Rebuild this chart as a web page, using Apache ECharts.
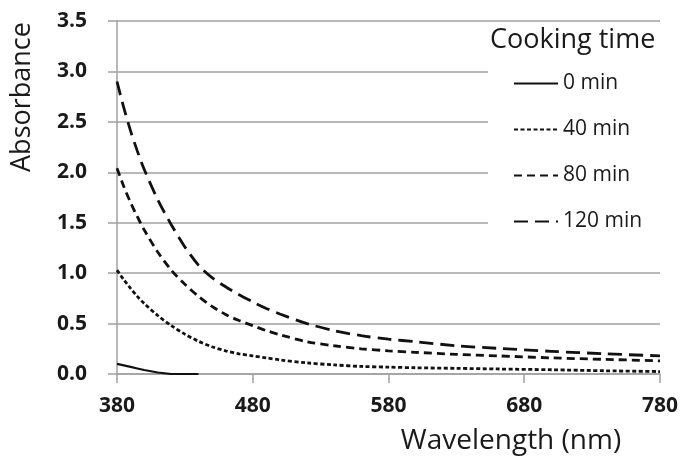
<!DOCTYPE html>
<html>
<head>
<meta charset="utf-8">
<script src="https://cdn.jsdelivr.net/npm/echarts@6/dist/echarts.min.js"></script>
<style>
  html, body { margin: 0; padding: 0; background: #fff; }
  #chart { width: 681px; height: 456px; }
</style>
</head>
<body>
<div id="chart"></div>
<script>
// wavelength (nm) sampled along the curves
const wavelengths = [380, 385, 390, 395, 400, 410, 420, 430, 440, 450, 460, 470, 480, 490, 500, 520, 540, 560, 580, 600, 630, 660, 700, 740, 780];
const min0   = [0.10, 0.085, 0.07, 0.055, 0.04, 0.015, 0.0, 0.0, 0.0, null, null, null, null, null, null, null, null, null, null, null, null, null, null, null, null];
const min40  = [1.03, 0.935, 0.85, 0.77, 0.70, 0.58, 0.48, 0.395, 0.325, 0.27, 0.23, 0.20, 0.18, 0.16, 0.14, 0.11, 0.09, 0.075, 0.068, 0.062, 0.056, 0.05, 0.042, 0.032, 0.024];
const min80  = [2.04, 1.86, 1.70, 1.56, 1.43, 1.21, 1.03, 0.89, 0.77, 0.67, 0.59, 0.53, 0.48, 0.43, 0.39, 0.32, 0.28, 0.25, 0.23, 0.215, 0.195, 0.18, 0.16, 0.145, 0.13];
const min120 = [2.90, 2.64, 2.41, 2.21, 2.03, 1.73, 1.48, 1.26, 1.08, 0.955, 0.865, 0.785, 0.715, 0.65, 0.595, 0.50, 0.43, 0.38, 0.345, 0.32, 0.28, 0.255, 0.225, 0.20, 0.18];
const seriesNames = ['0 min', '40 min', '80 min', '120 min'];
const xTicks = [380, 480, 580, 680, 780];

const chart = echarts.init(document.getElementById('chart'));
const font = "'Open Sans', sans-serif";
const ink = '#1a1a1a';

function pairs(vals) {
  return wavelengths.map((w, i) => [w, vals[i]]);
}

const dashes = ['solid', [4, 2.5], [8, 5], [14, 7]];
const widths = [2.2, 2.8, 2.8, 2.8];

const option = {
  animation: false,
  title: {
    text: 'Cooking time',
    left: 490,
    top: 27,
    padding: 0,
    textStyle: { fontFamily: font, fontSize: 27, fontWeight: 'normal', color: ink }
  },
  legend: {
    orient: 'vertical',
    left: 488,
    top: 26,
    padding: [47, 40, 12, 25],
    backgroundColor: '#fff',
    itemWidth: 44,
    itemHeight: 20,
    itemGap: 25,
    itemStyle: { opacity: 0 },
    data: seriesNames,
    textStyle: { fontFamily: font, fontSize: 21, color: ink, lineHeight: 20 }
  },
  grid: { left: 117, right: 21, top: 21, bottom: 82 },
  xAxis: {
    type: 'value',
    min: 380,
    max: 780,
    interval: 100,
    axisLine: { show: true, lineStyle: { color: '#a0a0a0', width: 1.5 } },
    axisTick: { show: true, length: 9, lineStyle: { color: '#a0a0a0', width: 1.5 } },
    splitLine: { show: false },
    axisLabel: {
      margin: 22,
      fontFamily: font, fontSize: 21, fontWeight: 'bold', color: ink,
      formatter: v => xTicks.includes(v) ? String(v) : ''
    }
  },
  yAxis: {
    type: 'value',
    min: 0,
    max: 3.5,
    interval: 0.5,
    axisLine: { show: true, lineStyle: { color: '#a0a0a0', width: 1.5 } },
    axisTick: { show: true, length: 9, lineStyle: { color: '#a0a0a0', width: 1.5 } },
    splitLine: { show: true, lineStyle: { color: '#a0a0a0', width: 1.5 } },
    axisLabel: {
      margin: 30,
      fontFamily: font, fontSize: 21, fontWeight: 'bold', color: ink,
      formatter: v => v.toFixed(1)
    }
  },
  graphic: [
    {
      type: 'text', x: 22, y: 97, rotation: Math.PI / 2,
      style: { text: 'Absorbance', fontFamily: font, fontSize: 27, fill: ink, align: 'center', verticalAlign: 'middle' }
    },
    {
      type: 'text', x: 511, y: 441,
      style: { text: 'Wavelength (nm)', fontFamily: font, fontSize: 28, fill: ink, align: 'center', verticalAlign: 'middle' }
    }
  ],
  series: [min0, min40, min80, min120].map((vals, i) => ({
    name: seriesNames[i],
    type: 'line',
    data: pairs(vals),
    symbol: 'none',
    smooth: i === 0 ? false : 0.3,
    connectNulls: false,
    color: '#111',
    lineStyle: { color: '#111', width: widths[i], type: dashes[i] }
  }))
};

chart.setOption(option);
</script>
</body>
</html>
